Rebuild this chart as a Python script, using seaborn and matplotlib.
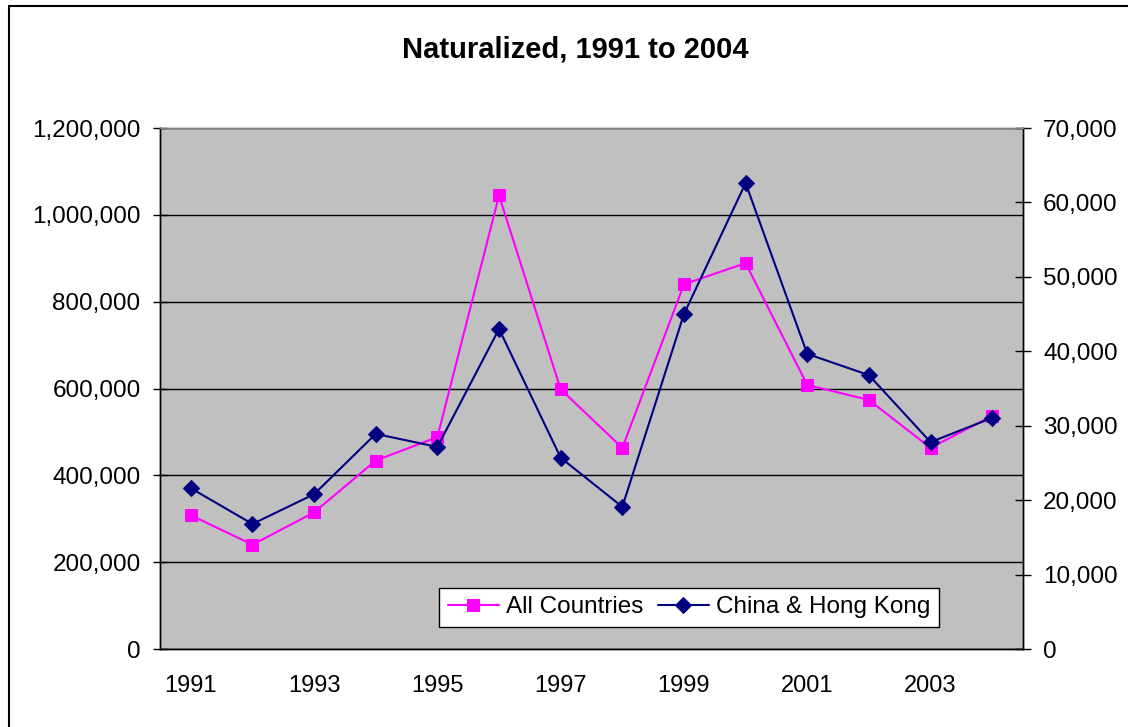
import matplotlib
matplotlib.use("Agg")
import matplotlib.pyplot as plt
import matplotlib.ticker as mticker
from matplotlib.lines import Line2D
import seaborn as sns

# Data
years = [1991, 1992, 1993, 1994, 1995, 1996, 1997,
         1998, 1999, 2000, 2001, 2002, 2003, 2004]
all_countries = [308058, 240252, 314681, 434107, 488088, 1044689, 598225,
                 463060, 839944, 888788, 608205, 573708, 463204, 537151]
china_hk = [21600, 16800, 20800, 28900, 27150, 43000, 25700,
            19100, 45000, 62600, 39650, 36800, 27800, 31050]
series_names = ["All Countries", "China & Hong Kong"]
title = "Naturalized, 1991 to 2004"

sns.set_style("white")
plt.rcParams['font.family'] = ['Liberation Sans', 'DejaVu Sans']
plt.rcParams['text.color'] = 'black'
plt.rcParams['xtick.color'] = 'black'
plt.rcParams['ytick.color'] = 'black'

fig = plt.figure(figsize=(11.28, 7.27), dpi=100)
ax = fig.add_axes([160 / 1128, 1 - 649 / 727, (1023 - 160) / 1128, (649 - 128) / 727])
ax.set_facecolor('#C0C0C0')
ax2 = ax.twinx()

sns.lineplot(x=years, y=all_countries, ax=ax, color='#FF00FF', marker='s',
             markersize=9, markeredgecolor='#FF00FF', linewidth=1.5, legend=False)
sns.lineplot(x=years, y=china_hk, ax=ax2, color='#000080', marker='D',
             markersize=8.5, markeredgecolor='#000080', linewidth=1.5, legend=False)

# category style x axis: ticks between years, labels every other year
ax.set_xlim(years[0] - 0.5, years[-1] + 0.5)
ax.set_xticks([y - 0.5 for y in years] + [years[-1] + 0.5])
ax.set_xticklabels([])
ax.set_xticks(years[::2], minor=True)
ax.set_xticklabels([str(y) for y in years[::2]], minor=True)
ax.tick_params(axis='x', which='major', direction='out', length=5, width=1, color='black')
ax.tick_params(axis='x', which='minor', length=0, pad=19, labelsize=17)
ax.set_xlabel('')

ax.set_ylim(0, 1200000)
ax.yaxis.set_major_locator(mticker.MultipleLocator(200000))
ax.yaxis.set_major_formatter(mticker.StrMethodFormatter('{x:,.0f}'))
ax.tick_params(axis='y', direction='inout', length=10, width=1, color='black',
               labelsize=17.5, pad=9)
ax.yaxis.grid(True, color='black', linewidth=1)
ax.set_axisbelow(True)

ax2.set_ylim(0, 70000)
ax2.yaxis.set_major_locator(mticker.MultipleLocator(10000))
ax2.yaxis.set_major_formatter(mticker.StrMethodFormatter('{x:,.0f}'))
ax2.tick_params(axis='y', direction='inout', length=11, width=1, color='black',
                labelsize=17.5, pad=9)
ax2.set_ylabel('')

for a in (ax, ax2):
    a.spines['left'].set_color('black')
    a.spines['bottom'].set_color('black')
    a.spines['right'].set_color('black')
    a.spines['top'].set_color('#808080')
    for s in a.spines.values():
        s.set_linewidth(1)

handles = [ax.lines[0], ax2.lines[0]]
leg = ax2.legend(handles, series_names, loc='center', bbox_to_anchor=(0.613, 0.08),
                 ncol=2, fontsize=17.5, frameon=True, fancybox=False, framealpha=1,
                 edgecolor='black', handlelength=2.1, handletextpad=0.3,
                 columnspacing=0.6, borderpad=0.35, borderaxespad=0)
leg.get_frame().set_linewidth(1)

fig.text(575 / 1128, 1 - 49 / 727, title, ha='center', va='center',
         fontsize=21, fontweight='bold')

# chart area border (top and left edges visible in the reference)
fig.add_artist(Line2D([9 / 1128, 1.0], [1 - 6 / 727, 1 - 6 / 727],
                      transform=fig.transFigure, color='black', linewidth=1.5))
fig.add_artist(Line2D([9 / 1128, 9 / 1128], [0, 1 - 6 / 727],
                      transform=fig.transFigure, color='black', linewidth=1.5))

fig.savefig('out.png', dpi=100)
